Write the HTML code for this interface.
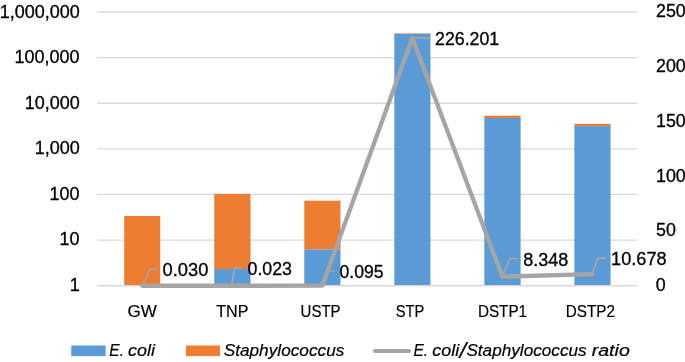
<!DOCTYPE html>
<html lang="en"><head><meta charset="utf-8"><title>E. coli / Staphylococcus chart</title>
<style>html,body{margin:0;padding:0;background:#fff;}body{width:685px;height:362px;overflow:hidden;}svg{display:block;}text{font-family:"Liberation Sans",Arial,sans-serif;fill:#000;stroke:#000;stroke-width:0.3px;}.t{stroke-width:0.2px;}</style></head><body>
<svg width="685" height="362" viewBox="0 0 685 362">
<rect width="685" height="362" fill="#fff"/>
<g stroke="#D9D9D9" stroke-width="1.35" fill="none">
<line x1="97.2" y1="12.0" x2="637.4" y2="12.0"/>
<line x1="97.2" y1="57.6" x2="637.4" y2="57.6"/>
<line x1="97.2" y1="103.2" x2="637.4" y2="103.2"/>
<line x1="97.2" y1="148.82" x2="637.4" y2="148.82"/>
<line x1="97.2" y1="194.42" x2="637.4" y2="194.42"/>
<line x1="97.2" y1="240.05" x2="637.4" y2="240.05"/>
<line x1="97.2" y1="285.72" x2="637.4" y2="285.72" stroke-width="1.45"/>
</g>
<rect x="124.22" y="216.0" width="36.00" height="69.00" fill="#ED7D31"/>
<rect x="214.25" y="193.9" width="36.25" height="75.10" fill="#ED7D31"/>
<rect x="214.25" y="269.0" width="36.25" height="16.00" fill="#5B9BD5"/>
<rect x="304.28" y="200.7" width="36.17" height="48.75" fill="#ED7D31"/>
<rect x="304.28" y="249.45" width="36.17" height="35.55" fill="#5B9BD5"/>
<rect x="394.32" y="33.3" width="36.13" height="0.50" fill="#ED7D31"/>
<rect x="394.32" y="33.8" width="36.13" height="251.20" fill="#5B9BD5"/>
<rect x="484.35" y="115.7" width="36.25" height="2.30" fill="#ED7D31"/>
<rect x="484.35" y="118.0" width="36.25" height="167.00" fill="#5B9BD5"/>
<rect x="574.38" y="123.8" width="36.17" height="2.30" fill="#ED7D31"/>
<rect x="574.38" y="126.1" width="36.17" height="158.90" fill="#5B9BD5"/>
<g stroke="#A6A6A6" stroke-width="1.6" fill="none">
<polyline points="142.5,284 150.2,269.4 157.8,269.4"/>
<polyline points="232.0,284 234.5,267.9 241.5,267.9"/>
<polyline points="322.3,285.3 327.4,271.2 334.5,271.2"/>
<polyline points="412.3,37.9 430.0,37.9"/>
<polyline points="502.4,276.0 509.9,258.7 517.8,258.7"/>
<polyline points="592.4,273.7 597.6,258.1 606.3,258.1"/>
</g>
<polyline fill="none" stroke="#A5A5A5" stroke-width="4.3" stroke-linecap="round" stroke-linejoin="round" points="142.22,285.77 232.25,285.77 322.28,285.70 412.32,37.97 502.35,276.65 592.38,274.10"/>
<rect x="71.25" y="345.5" width="34.35" height="10.65" fill="#5B9BD5"/>
<rect x="185.85" y="345.5" width="34.1" height="10.65" fill="#ED7D31"/>
<line x1="374.95" y1="351" x2="409.2" y2="351" stroke="#A5A5A5" stroke-width="4.0" stroke-linecap="round"/>
<text id="l6" x="-0.20" y="17.60" font-size="17.6" textLength="80.00" lengthAdjust="spacingAndGlyphs">1,000,000</text>
<text id="l5" x="14.61" y="63.30" font-size="17.6" textLength="65.01" lengthAdjust="spacingAndGlyphs">100,000</text>
<text id="l4" x="24.83" y="109.00" font-size="17.6" textLength="55.00" lengthAdjust="spacingAndGlyphs">10,000</text>
<text id="l3" x="34.80" y="153.60" font-size="17.6" textLength="45.00" lengthAdjust="spacingAndGlyphs">1,000</text>
<text id="l2" x="49.62" y="200.20" font-size="17.6" textLength="30.01" lengthAdjust="spacingAndGlyphs">100</text>
<text id="l1" x="59.58" y="245.40" font-size="17.6" textLength="20.01" lengthAdjust="spacingAndGlyphs">10</text>
<text id="l0" x="69.80" y="290.70" font-size="17.6" textLength="10.01" lengthAdjust="spacingAndGlyphs">1</text>
<text id="r5" x="656.04" y="17.20" font-size="17.6" textLength="29.77" lengthAdjust="spacingAndGlyphs">250</text>
<text id="r4" x="656.04" y="72.20" font-size="17.6" textLength="29.77" lengthAdjust="spacingAndGlyphs">200</text>
<text id="r3" x="656.03" y="127.20" font-size="17.6" textLength="29.77" lengthAdjust="spacingAndGlyphs">150</text>
<text id="r2" x="656.03" y="181.90" font-size="17.6" textLength="29.77" lengthAdjust="spacingAndGlyphs">100</text>
<text id="r1" x="656.09" y="236.40" font-size="17.6" textLength="19.85" lengthAdjust="spacingAndGlyphs">50</text>
<text id="r0" x="655.84" y="290.80" font-size="17.6" textLength="9.93" lengthAdjust="spacingAndGlyphs">0</text>
<text class="t" id="c0" x="127.46" y="316.90" font-size="17.3" textLength="29.36" lengthAdjust="spacingAndGlyphs">GW</text>
<text class="t" id="c1" x="216.27" y="316.90" font-size="17.3" textLength="32.19" lengthAdjust="spacingAndGlyphs">TNP</text>
<text class="t" id="c2" x="300.62" y="316.90" font-size="17.3" textLength="39.91" lengthAdjust="spacingAndGlyphs">USTP</text>
<text class="t" id="c3" x="395.66" y="316.90" font-size="17.3" textLength="28.57" lengthAdjust="spacingAndGlyphs">STP</text>
<text class="t" id="c4" x="477.88" y="316.90" font-size="17.3" textLength="49.17" lengthAdjust="spacingAndGlyphs">DSTP1</text>
<text class="t" id="c5" x="565.78" y="316.90" font-size="17.3" textLength="49.17" lengthAdjust="spacingAndGlyphs">DSTP2</text>
<text id="d0" x="162.52" y="275.70" font-size="17.6" textLength="45.79" lengthAdjust="spacingAndGlyphs">0.030</text>
<text id="d1" x="247.54" y="274.60" font-size="17.6" textLength="44.45" lengthAdjust="spacingAndGlyphs">0.023</text>
<text id="d2" x="339.55" y="277.90" font-size="17.6" textLength="44.13" lengthAdjust="spacingAndGlyphs">0.095</text>
<text id="d3" x="435.04" y="44.90" font-size="17.6" textLength="64.22" lengthAdjust="spacingAndGlyphs">226.201</text>
<text id="d4" x="523.23" y="265.70" font-size="17.6" textLength="45.17" lengthAdjust="spacingAndGlyphs">8.348</text>
<text id="d5" x="611.11" y="264.85" font-size="17.6" textLength="55.53" lengthAdjust="spacingAndGlyphs">10.678</text>
<text class="t" id="g0" font-size="17.3" font-style="italic"><tspan x="109.35" y="356.30" textLength="14.61" lengthAdjust="spacingAndGlyphs">E.</tspan> <tspan x="128.08" y="356.30" textLength="26.89" lengthAdjust="spacingAndGlyphs">coli</tspan></text>
<text class="t" id="g1" x="223.70" y="356.30" font-size="17.3" font-style="italic" textLength="120.64" lengthAdjust="spacingAndGlyphs">Staphylococcus</text>
<text class="t" id="g2" font-size="17.3" font-style="italic"><tspan x="413.45" y="356.30" textLength="14.61" lengthAdjust="spacingAndGlyphs">E.</tspan> <tspan x="432.28" y="356.30" textLength="26.89" lengthAdjust="spacingAndGlyphs">coli</tspan><tspan x="459.56" y="358.40" font-size="22" textLength="6.69" lengthAdjust="spacingAndGlyphs">/</tspan><tspan x="466.40" y="356.30" textLength="120.24" lengthAdjust="spacingAndGlyphs">Staphylococcus</tspan> <tspan x="591.72" y="356.30" textLength="38.09" lengthAdjust="spacingAndGlyphs">ratio</tspan></text>
</svg></body></html>
